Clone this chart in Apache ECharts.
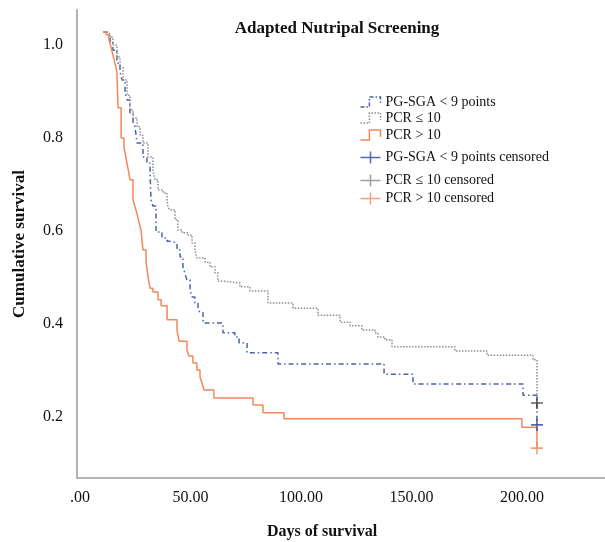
<!DOCTYPE html>
<html>
<head>
<meta charset="utf-8">
<script src="https://cdn.jsdelivr.net/npm/echarts@6/dist/echarts.min.js"></script>
<style>html,body{margin:0;padding:0;background:#fff}#c{width:605px;height:542px}</style>
</head>
<body>
<div id="c"></div>
<script>
// ---- data (days, cumulative survival) ----
var seriesNames = ['PG-SGA < 9 points', 'PCR \u2264 10', 'PCR > 10',
  'PG-SGA < 9 points censored', 'PCR \u2264 10 censored', 'PCR > 10 censored'];

var pgsgaCurve = [[10.4,1.028],[12.2,1.022],[13.6,1.006],[14.9,0.989],[16.7,0.961],[18.1,0.942],[19.0,0.925],[20.4,0.897],[21.3,0.882],[22.6,0.854],[24.0,0.834],[24.9,0.824],[25.8,0.789],[28.5,0.759],[30.3,0.746],[31.7,0.731],[32.1,0.667],[33.0,0.654],[34.4,0.598],[37.1,0.585],[39.4,0.578],[41.6,0.574],[43.9,0.559],[45.3,0.544],[46.6,0.523],[47.5,0.508],[48.4,0.495],[49.8,0.473],[50.7,0.458],[52.0,0.445],[53.4,0.434],[54.3,0.424],[55.7,0.402],[64.7,0.381],[70.1,0.372],[72.0,0.359],[75.6,0.338],[89.6,0.314],[137.6,0.292],[150.7,0.271],[200.5,0.247],[206.8,0.183]];

var pcrLowCurve = [[10.4,1.028],[12.2,1.024],[13.6,1.017],[14.9,1.000],[16.7,0.974],[18.1,0.951],[19.5,0.925],[21.3,0.892],[22.6,0.860],[24.0,0.843],[25.8,0.824],[27.2,0.806],[28.5,0.789],[30.8,0.759],[33.0,0.731],[33.9,0.710],[35.3,0.688],[37.6,0.682],[39.4,0.667],[39.8,0.652],[40.7,0.645],[43.0,0.624],[44.3,0.602],[46.2,0.596],[48.9,0.591],[50.7,0.574],[52.0,0.559],[52.9,0.542],[56.6,0.533],[58.8,0.523],[61.1,0.510],[62.4,0.492],[65.6,0.488],[72.4,0.480],[76.9,0.471],[85.1,0.445],[96.4,0.434],[107.7,0.419],[117.7,0.404],[122.2,0.396],[127.6,0.387],[133.5,0.381],[134.8,0.372],[138.0,0.366],[141.2,0.351],[169.7,0.342],[184.2,0.333],[205.0,0.323],[206.8,0.316],[206.8,0.230]];

var pcrHighCurve = [[10.4,1.028],[11.8,1.022],[13.1,1.011],[14.0,0.996],[14.9,0.978],[15.8,0.961],[16.7,0.942],[17.2,0.865],[18.6,0.800],[19.9,0.781],[20.8,0.757],[21.7,0.735],[22.6,0.710],[24.0,0.667],[24.9,0.652],[25.8,0.637],[26.7,0.619],[27.6,0.602],[28.5,0.559],[29.9,0.533],[30.8,0.501],[31.7,0.477],[33.0,0.469],[35.3,0.452],[36.7,0.439],[39.4,0.409],[43.9,0.387],[44.8,0.363],[48.4,0.344],[49.3,0.331],[51.1,0.316],[52.9,0.301],[54.3,0.286],[55.2,0.273],[56.1,0.258],[60.6,0.241],[78.3,0.226],[82.8,0.209],[92.3,0.196],[200.0,0.178],[206.8,0.133]];

var pgsgaCensored = [[206.8,0.183]];
var pcrLowCensored = [[206.8,0.230]];
var pcrHighCensored = [[206.8,0.133]];

var xTicks = [0, 50, 100, 150, 200];
var yTicks = [0.2, 0.4, 0.6, 0.8, 1.0];

// ---- styling ----
var FONT = "'Liberation Serif', 'DejaVu Serif', serif";
var cBlue = '#4d62a6', cGrey = '#8e8e8e', cOrange = '#f3875c';
var cBlueMark = '#2f4592', cGreyMark = '#3a3a3a', cOrangeMark = '#f3875c';
var stepIcon = 'path://M0,10 L8,10 L8,1 L18,1 L18,7';
var plusIcon = 'path://M0,6 L20,6 M10,0 L10,12';
var plusSymbol = 'path://M5,0 L5,10 M0,5 L10,5';

var legendTops = [94, 110, 127, 149, 172, 190];
var legendDefs = [
  {color: cBlue, type: [4, 2, 1.5, 2], icon: stepIcon},
  {color: cGrey, type: [1.5, 1.5], icon: stepIcon},
  {color: cOrange, type: 'solid', icon: stepIcon},
  {color: cBlueMark, type: 'solid', icon: plusIcon},
  {color: '#888', type: 'solid', icon: plusIcon},
  {color: cOrangeMark, type: 'solid', icon: plusIcon}
];
var legends = seriesNames.map(function (n, i) {
  var d = legendDefs[i];
  return {
    left: 358, top: legendTops[i], orient: 'vertical',
    itemWidth: 20, itemHeight: 12, itemGap: 0, padding: 0,
    selectedMode: false,
    textStyle: {fontFamily: FONT, fontSize: 14, color: '#111', lineHeight: 16},
    data: [{name: n, icon: d.icon,
      itemStyle: {color: 'none', borderColor: d.color, borderWidth: 1.5, borderType: d.type}}]
  };
});

function stepLine(name, data, color, type, width) {
  return {
    name: name, type: 'line', step: 'end', data: data,
    showSymbol: false, symbol: 'none', silent: true,
    lineStyle: {color: color, width: width, type: type},
    itemStyle: {color: color}
  };
}
function censor(name, data, color) {
  return {
    name: name, type: 'scatter', data: data, symbol: plusSymbol,
    symbolSize: [12, 12], silent: true, z: 5,
    itemStyle: {color: 'none', borderColor: color, borderWidth: 1.6}
  };
}

var chart = echarts.init(document.getElementById('c'), null, {renderer: 'canvas'});
chart.setOption({
  animation: false,
  backgroundColor: '#fff',
  title: {
    text: 'Adapted Nutripal Screening', left: 332, top: 15, textAlign: 'center',
    textStyle: {fontFamily: FONT, fontSize: 17, fontWeight: 'bold', color: '#111'}
  },
  legend: legends,
  grid: {left: 77, right: 0, top: 10, bottom: 64, containLabel: false, outerBoundsMode: 'none'},
  xAxis: {
    type: 'value', min: -1.36, max: 237.6,
    name: 'Days of survival', nameLocation: 'middle', nameGap: 46,
    nameTextStyle: {fontFamily: FONT, fontSize: 16, fontWeight: 'bold', color: '#111', padding: [0, 38, 0, 0]},
    axisLine: {show: true, onZero: false, lineStyle: {color: '#b3b3b3', width: 2}},
    axisTick: {show: false},
    splitLine: {show: false},
    axisLabel: {
      customValues: xTicks, margin: 12,
      fontFamily: FONT, fontSize: 16, color: '#111',
      formatter: function (v) { return v === 0 ? '.00' : v.toFixed(2); }
    }
  },
  yAxis: {
    type: 'value', min: 0.0688, max: 1.0753,
    name: 'Cumulative survival', nameLocation: 'middle', nameGap: 49, nameRotate: 90,
    nameTextStyle: {fontFamily: FONT, fontSize: 17, fontWeight: 'bold', color: '#111'},
    axisLine: {show: true, onZero: false, lineStyle: {color: '#b3b3b3', width: 2}},
    axisTick: {show: false},
    splitLine: {show: false},
    axisLabel: {
      customValues: yTicks, margin: 14,
      fontFamily: FONT, fontSize: 16, color: '#111',
      formatter: function (v) { return v.toFixed(1); }
    }
  },
  series: [
    stepLine(seriesNames[0], pgsgaCurve, cBlue, [5, 3, 1.5, 3], 1.5),
    stepLine(seriesNames[1], pcrLowCurve, cGrey, [1.5, 1.5], 1.5),
    stepLine(seriesNames[2], pcrHighCurve, cOrange, 'solid', 1.5),
    censor(seriesNames[3], pgsgaCensored, cBlueMark),
    censor(seriesNames[4], pcrLowCensored, cGreyMark),
    censor(seriesNames[5], pcrHighCensored, cOrangeMark)
  ]
});
</script>
</body>
</html>
